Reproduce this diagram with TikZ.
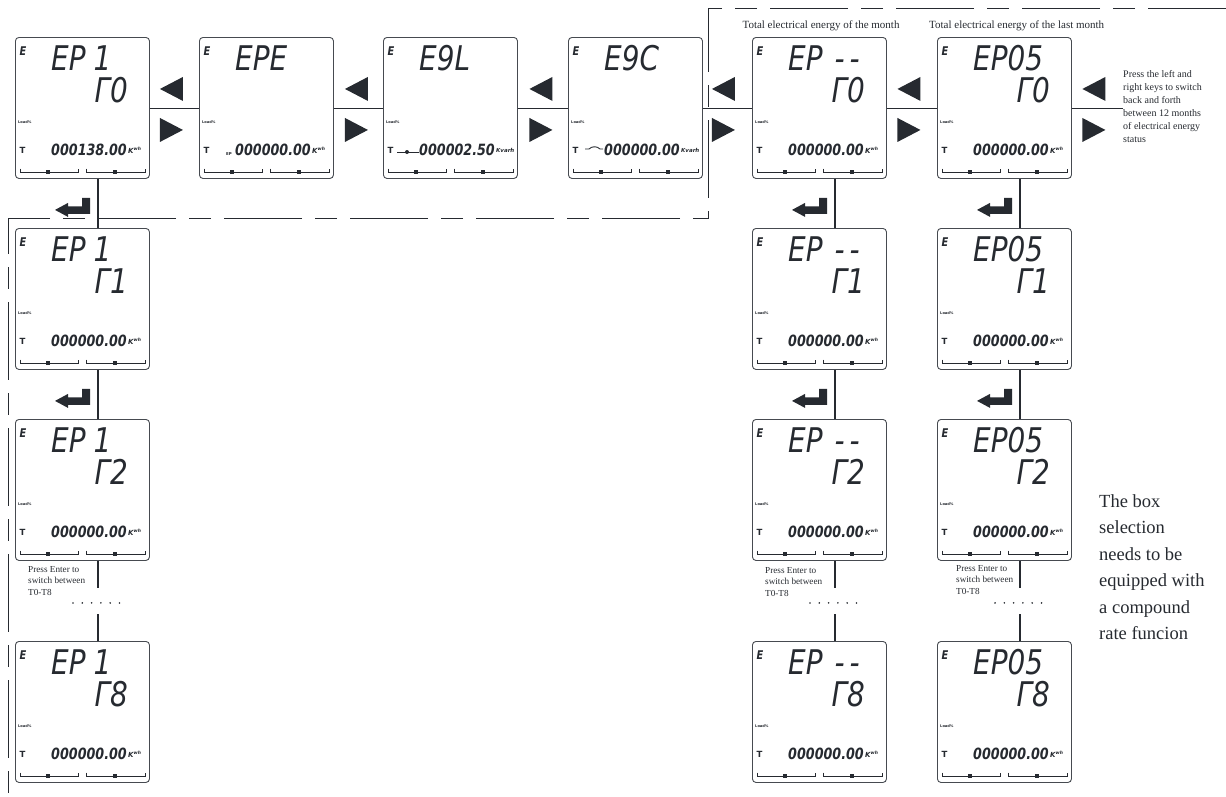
\documentclass[tikz,border=0pt]{standalone}
\usepackage{fontspec}
\setmainfont{Liberation Serif}
\newfontfamily\segfont[FakeStretch=0.82]{DejaVu Sans}
\newfontfamily\lcdsans{DejaVu Sans}
\usetikzlibrary{calc}
\definecolor{ink}{RGB}{38,42,48}
\definecolor{boxline}{RGB}{70,74,80}
\tikzset{
  lcdbox/.style={draw=boxline, line width=0.9pt, rounded corners=3.5pt, minimum width=134pt, minimum height=141pt, inner sep=0pt, anchor=north west},
  segE/.style={inner sep=0pt, text=ink, font=\segfont\bfseries\itshape\fontsize{12}{12}\selectfont},
  bigseg/.style={inner sep=0pt, anchor=west, text=ink, font=\segfont\itshape\fontsize{34}{34}\selectfont},
  tierseg/.style={inner sep=0pt, anchor=east, text=ink, font=\segfont\itshape\fontsize{34}{34}\selectfont},
  loadtxt/.style={inner sep=0pt, anchor=west, text=ink, font=\lcdsans\bfseries\fontsize{3.6}{3.6}\selectfont},
  ttxt/.style={inner sep=0pt, anchor=west, text=ink, font=\lcdsans\bfseries\fontsize{8.5}{8.5}\selectfont},
  digseg/.style={inner sep=0pt, anchor=east, text=ink, font=\segfont\bfseries\itshape\fontsize{15.5}{15.5}\selectfont},
  unitk/.style={inner sep=0pt, anchor=west, text=ink, font=\lcdsans\bfseries\itshape},
  bar/.style={draw=ink, line width=0.9pt},
  hconn/.style={draw=ink, line width=0.8pt},
  vconn/.style={draw=ink, line width=2.4pt},
  dashline/.style={draw=ink, line width=0.8pt, dash pattern=on 78pt off 13pt on 22pt off 13pt},
  lbl/.style={inner sep=0pt, text=ink, font=\fontsize{11}{13}\selectfont},
  note/.style={inner sep=0pt, anchor=north west, align=left, text=ink, font=\fontsize{10}{13}\selectfont},
  bignote/.style={inner sep=0pt, anchor=north west, align=left, text=ink, font=\fontsize{18.5}{26.5}\selectfont},
  enternote/.style={inner sep=0pt, anchor=north west, align=left, text=ink, font=\fontsize{9.2}{11.5}\selectfont},
  lrpair/.pic={
    \fill[ink] (-11.5,-19) -- (11.5,-31) -- (11.5,-7) -- cycle;
    \fill[ink] (11.5,22) -- (-11.5,10) -- (-11.5,34) -- cycle;
  },
  enterarrow/.pic={
    \fill[ink] (-43,31) -- (-30,24) -- (-30,27.5) -- (-16,27.5) -- (-16,19) -- (-8,19) -- (-8,35) -- (-30,35) -- (-30,38) -- cycle;
  }
}
\newcommand\kwh{{\fontsize{7}{7}\selectfont K}\raisebox{2.8pt}{\fontsize{4.5}{4.5}\selectfont wh}}
\newcommand\kvarh{{\fontsize{5.5}{5.5}\selectfont Kvarh}}
\newcommand\epone{EP\hspace{8pt}1}
\newcommand\epdash{EP\hspace{12pt}-\hspace{5pt}-}
% #1 name, #2 x, #3 y, #4 big text, #5 tier, #6 digits, #7 unit, #8 prefix drawing
\newcommand\lcdscreen[8]{%
  \node[lcdbox] (#1) at (#2,#3) {};
  \begin{scope}[shift={(#1.north west)}]
    \node[segE] (#1-e) at (8,14) {E};
    \node[bigseg] (#1-big) at (36,21) {#4};
    \node[tierseg] (#1-tier) at (113,53) {#5};
    \node[loadtxt] (#1-load) at (3,85) {Load\%};
    \node[ttxt] (#1-t) at (4.5,113) {T};
    \node[digseg] (#1-dig) at (112,113) {#6};
    \node[unitk] (#1-unit) at (113,113.5) {#7};
    #8
    \draw[bar] (5,131.5) -- (5,135) -- (63,135) -- (63,131.5);
    \draw[bar] (71,131.5) -- (71,135) -- (130,135) -- (130,131.5);
    \fill[ink] (30.5,133.2) rectangle (34.5,136.8);
    \fill[ink] (98,133.2) rectangle (102,136.8);
  \end{scope}}
\begin{document}
\begin{tikzpicture}[x=1pt,y=-1pt]
\useasboundingbox (0,0) rectangle (1226,796);
% dashed frame
\coordinate (d0) at (1226,8);
\coordinate (d1) at (708,8);
\coordinate (d2) at (708,218);
\coordinate (d3) at (8,218);
\coordinate (d4) at (8,796);
\draw[dashline] (d0) -- (d1) -- (d2) -- (d3) -- (d4);
% top row
\lcdscreen{b11}{15}{37}{\epone}{Γ0}{000138.00}{\kwh}{}
\lcdscreen{b12}{199}{37}{EPE}{}{000000.00}{\kwh}{\node[inner sep=0pt, text=ink, font=\lcdsans\bfseries\fontsize{4}{4}\selectfont] (b12-pre) at (30,117) {EP};}
\lcdscreen{b13}{383}{37}{E9L}{}{000002.50}{\kvarh}{\draw[ink, line width=1pt] (14,115) -- (36,115); \fill[ink] (24,115) circle (2pt);}
\lcdscreen{b14}{568}{37}{E9C}{}{000000.00}{\kvarh}{\draw[ink, line width=0.9pt] (17,112) -- (21,112) .. controls (24,109) and (29,109) .. (32,112) -- (35,112);}
\lcdscreen{b15}{752}{37}{\epdash}{Γ0}{000000.00}{\kwh}{}
\lcdscreen{b16}{937}{37}{EP05}{Γ0}{000000.00}{\kwh}{}
% first column
\lcdscreen{b21}{15}{228}{\epone}{Γ1}{000000.00}{\kwh}{}
\lcdscreen{b31}{15}{419}{\epone}{Γ2}{000000.00}{\kwh}{}
\lcdscreen{b41}{15}{641}{\epone}{Γ8}{000000.00}{\kwh}{}
% fifth column
\lcdscreen{b25}{752}{228}{\epdash}{Γ1}{000000.00}{\kwh}{}
\lcdscreen{b35}{752}{419}{\epdash}{Γ2}{000000.00}{\kwh}{}
\lcdscreen{b45}{752}{641}{\epdash}{Γ8}{000000.00}{\kwh}{}
% sixth column
\lcdscreen{b26}{937}{228}{EP05}{Γ1}{000000.00}{\kwh}{}
\lcdscreen{b36}{937}{419}{EP05}{Γ2}{000000.00}{\kwh}{}
\lcdscreen{b46}{937}{641}{EP05}{Γ8}{000000.00}{\kwh}{}
% horizontal connectors
\coordinate (rend) at ($(b16.east)+(51,0)$);
\draw[hconn] (b11.east) -- (b12.west);
\draw[hconn] (b12.east) -- (b13.west);
\draw[hconn] (b13.east) -- (b14.west);
\draw[hconn] (b14.east) -- (b15.west);
\draw[hconn] (b15.east) -- (b16.west);
\draw[hconn] (b16.east) -- (rend);
\pic at ($(b11.east)!0.5!(b12.west)+(-3,0)$) {lrpair};
\pic at ($(b12.east)!0.5!(b13.west)+(-2,0)$) {lrpair};
\pic at ($(b13.east)!0.5!(b14.west)+(-2,0)$) {lrpair};
\pic at ($(b14.east)!0.5!(b15.west)+(-4,0)$) {lrpair};
\pic at ($(b15.east)!0.5!(b16.west)+(-3,0)$) {lrpair};
\pic at ($(b16.east)+(22,0)$) {lrpair};
% vertical connectors
\foreach \c in {1,5,6}{
  \draw[vconn] ($(b1\c.south west)+(83,0)$) -- ($(b2\c.north west)+(83,0)$);
  \pic at ($(b1\c.south west)+(83,0)$) {enterarrow};
  \draw[vconn] ($(b2\c.south west)+(83,0)$) -- ($(b3\c.north west)+(83,0)$);
  \pic at ($(b2\c.south west)+(83,0)$) {enterarrow};
  \draw[vconn] ($(b3\c.south west)+(83,0)$) -- ++(0,27);
  \draw[vconn] ($(b4\c.north west)+(83,0)$) -- ++(0,-27);
  \foreach \i in {0,...,5}{
    \fill[ink] ($(b3\c.south west)+(58+9.3*\i,42)$) circle (0.9pt);
  }
}
\node[enternote] (n1) at ($(b31.south west)+(13,5)$) {Press Enter to\\switch between\\T0-T8};
\node[enternote] (n5) at ($(b35.south west)+(13,6)$) {Press Enter to\\switch between\\T0-T8};
\node[enternote] (n6) at ($(b36.south west)+(19,4)$) {Press Enter to\\switch between\\T0-T8};
% labels
\node[lbl] (l5) at (821,26) {Total electrical energy of the month};
\node[lbl, anchor=west] (l6) at (929,26) {Total electrical energy of the last month};
\node[note] (rn) at (1123,70) {Press the left and\\right keys to switch\\back and forth\\between 12 months\\of electrical energy\\status};
\node[bignote] (bn) at (1099,494) {The box\\selection\\needs to be\\equipped with\\a compound\\rate funcion};
\end{tikzpicture}
\end{document}
